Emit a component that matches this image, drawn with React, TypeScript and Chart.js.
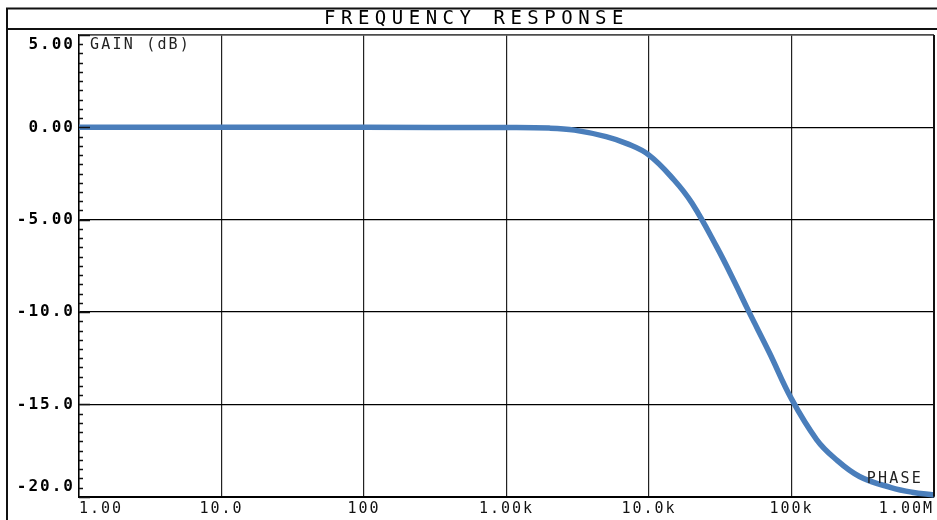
import React, { useEffect, useRef } from 'react';
import { Chart, registerables } from 'chart.js';

Chart.register(...registerables);

// ---- data ----
const freqHz = [1, 10, 100, 1000, 2000, 3000, 5000, 7000, 10000, 15000, 20000, 30000, 40000, 50000, 70000, 100000, 150000, 200000, 300000, 500000, 700000, 1000000];
const gainDb = [0, 0, 0, -0.01, -0.04, -0.15, -0.5, -0.88, -1.5, -2.85, -4.1, -6.5, -8.4, -9.95, -12.2, -14.7, -16.9, -17.9, -18.9, -19.5, -19.75, -19.9];

const xTickValues = [1, 10, 100, 1000, 10000, 100000, 1000000];
const xTickLabels = ['1.00', '10.0', '100', '1.00k', '10.0k', '100k', '1.00M'];
const yTickValues = [5, 0, -5, -10, -15, -20];
const yTickLabels = ['5.00', '0.00', '-5.00', '-10.0', '-15.0', '-20.0'];

const titleText = 'FREQUENCY RESPONSE';
const gainLabel = 'GAIN (dB)';
const phaseLabel = 'PHASE';

const MONO = '"DejaVu Sans Mono", "Liberation Mono", monospace';

const framePlugin = {
  id: 'framePlugin',
  beforeDraw(chart: any) {
    const ctx = chart.ctx;
    ctx.save();
    ctx.fillStyle = '#ffffff';
    ctx.fillRect(0, 0, chart.width, chart.height);
    ctx.restore();
    ctx.letterSpacing = '2px';
  },
  afterDraw(chart: any) {
    const ctx = chart.ctx;
    const { left, right, top, bottom } = chart.chartArea;
    const yScale = chart.scales.y;
    ctx.save();
    ctx.letterSpacing = '0px';
    // outer frame + title bar
    ctx.strokeStyle = '#111';
    ctx.lineWidth = 2;
    ctx.beginPath();
    ctx.moveTo(7, chart.height);
    ctx.lineTo(7, 8.5);
    ctx.lineTo(chart.width, 8.5);
    ctx.moveTo(7, 29);
    ctx.lineTo(chart.width, 29);
    ctx.stroke();
    // plot border top / right
    ctx.strokeStyle = '#666';
    ctx.lineWidth = 1.5;
    ctx.beginPath();
    ctx.moveTo(left, top);
    ctx.lineTo(right, top);
    ctx.stroke();
    ctx.strokeStyle = '#111';
    ctx.lineWidth = 2;
    ctx.beginPath();
    ctx.moveTo(right, top);
    ctx.lineTo(right, bottom);
    ctx.stroke();
    // minor/major ticks on the gain axis (inside)
    ctx.strokeStyle = '#111';
    ctx.lineWidth = 1.4;
    ctx.beginPath();
    for (let i = 0; i <= 50; i++) {
      const v = -20 + i * 0.5;
      const y = Math.round(yScale.getPixelForValue(v)) + 0.5;
      const len = i % 10 === 0 ? 11 : 4;
      ctx.moveTo(left, y);
      ctx.lineTo(left + len, y);
    }
    ctx.stroke();
    // title
    ctx.fillStyle = '#000';
    ctx.font = `19px ${MONO}`;
    ctx.letterSpacing = '5.5px';
    ctx.textAlign = 'center';
    ctx.textBaseline = 'middle';
    ctx.fillText(titleText, 476.5, 19.5);
    // annotations
    ctx.font = `15px ${MONO}`;
    ctx.letterSpacing = '2.2px';
    ctx.fillStyle = '#222';
    ctx.textAlign = 'left';
    ctx.fillText(gainLabel, left + 11, 45);
    ctx.textAlign = 'right';
    ctx.fillText(phaseLabel, right - 11, 479);
    ctx.restore();
    ctx.letterSpacing = '0px';
  },
};

export default function App() {
  const ref = useRef<HTMLCanvasElement | null>(null);
  useEffect(() => {
    document.body.style.margin = '0';
    const canvas = ref.current;
    if (!canvas) return;
    const chart = new Chart(canvas, {
      type: 'line',
      data: {
        datasets: [
          {
            label: 'Gain',
            data: freqHz.map((f, i) => ({ x: f, y: gainDb[i] })),
            borderColor: '#4a7ebb',
            borderWidth: 5.5,
            pointRadius: 0,
            tension: 0.4,
            fill: false,
            clip: 4,
          } as any,
        ],
      },
      options: {
        animation: false,
        responsive: true,
        maintainAspectRatio: false,
        layout: { padding: { left: 0, right: 2, top: 35, bottom: 0 } },
        plugins: {
          legend: { display: false },
          title: { display: false },
          tooltip: { enabled: false },
        },
        scales: {
          x: {
            type: 'logarithmic',
            min: 1,
            max: 1000000,
            afterBuildTicks: (scale: any) => {
              scale.ticks = xTickValues.map((v) => ({ value: v }));
            },
            afterFit: (scale: any) => {
              scale.height = 22;
            },
            ticks: {
              align: 'inner',
              maxRotation: 0,
              autoSkip: false,
              padding: 3,
              color: '#111',
              font: { family: MONO, size: 15 },
              callback: (v: any) => {
                const idx = xTickValues.indexOf(Number(v));
                return idx >= 0 ? xTickLabels[idx] : '';
              },
            },
            grid: { color: '#222', lineWidth: 1.2, drawTicks: false },
            border: { display: true, color: '#000', width: 2 },
          },
          y: {
            type: 'linear',
            min: -20,
            max: 5,
            afterBuildTicks: (scale: any) => {
              scale.ticks = yTickValues.map((v) => ({ value: v }));
            },
            afterFit: (scale: any) => {
              scale.width = 79;
            },
            ticks: {
              padding: 4,
              color: '#000',
              font: { family: MONO, size: 16, weight: 'bold' },
              callback: (v: any) => {
                const idx = yTickValues.indexOf(Number(v));
                if (idx < 0) return '';
                const lbl = yTickLabels[idx];
                if (idx === 0) return ['', lbl];
                if (idx === yTickValues.length - 1) return [lbl, ''];
                return lbl;
              },
            },
            grid: { color: '#000', lineWidth: 1.3, drawTicks: false },
            border: { display: true, color: '#000', width: 1.5 },
          },
        },
      } as any,
      plugins: [framePlugin],
    });
    return () => chart.destroy();
  }, []);
  return (
    <div style={{ width: 937, height: 520, position: 'relative' }}>
      <canvas ref={ref} />
    </div>
  );
}
